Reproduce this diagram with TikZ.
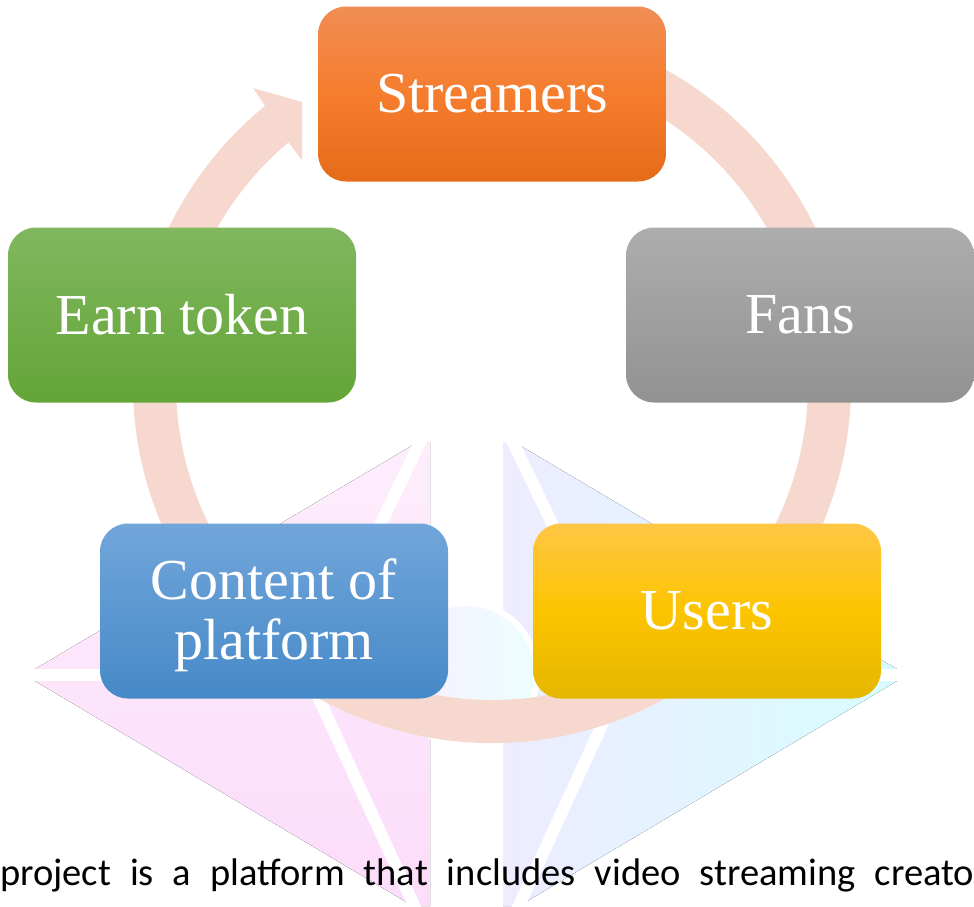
\documentclass[tikz,border=0pt]{standalone}
\usepackage{fontspec}
\setmainfont{Liberation Serif}
\newfontfamily\captionfont{Carlito}
\usetikzlibrary{positioning,calc}
\definecolor{ringpeach}{RGB}{246,216,206}
\definecolor{streamtop}{RGB}{241,141,84}
\definecolor{streammid}{RGB}{245,125,45}
\definecolor{streambot}{RGB}{229,107,26}
\definecolor{earntop}{RGB}{128,183,95}
\definecolor{earnbot}{RGB}{99,165,55}
\definecolor{fanstop}{RGB}{173,173,173}
\definecolor{fansbot}{RGB}{146,146,146}
\definecolor{contenttop}{RGB}{114,166,218}
\definecolor{contentbot}{RGB}{70,137,200}
\definecolor{userstop}{RGB}{255,198,70}
\definecolor{usersmid}{RGB}{253,196,0}
\definecolor{usersbot}{RGB}{228,183,0}
\definecolor{wmpinktop}{RGB}{253,238,252}
\definecolor{wmpink}{RGB}{252,220,250}
\definecolor{wmlav}{RGB}{238,236,255}
\definecolor{wmcyan}{RGB}{214,253,255}
\definecolor{wmlilac}{RGB}{248,238,255}
\definecolor{wmice}{RGB}{236,255,255}

\begin{document}
\begin{tikzpicture}[x=1pt, y=-1pt,
    stage/.style={rectangle, rounded corners=28pt, minimum width=348pt, minimum height=175pt, inner sep=0pt, text=white, align=center, font=\fontsize{58}{60}\selectfont},
    ring/.style={fill=ringpeach},
    glowstripe/.style={draw=white, line width=12pt}]

    \useasboundingbox (0,0) rectangle (974,906);
    \fill[white] (0,0) rectangle (974,906);

    % Watermark behind the cycle
    \fill[top color=wmpinktop, bottom color=wmpink] (25,675) -- (418,442) -- (430,442) -- (430,906) -- (413,906) -- cycle;
    \fill[left color=wmlav, right color=wmcyan] (907,675) -- (514,442) -- (503,442) -- (503,906) -- (519,906) -- cycle;
    \draw[glowstripe] (424,434) -- (308,675) -- (418,914);
    \draw[glowstripe] (509,434) -- (625,675) -- (515,914);
    \draw[glowstripe] (18,675) -- (300,675);
    \draw[glowstripe] (914,675) -- (632,675);
    \filldraw[left color=wmlilac, right color=wmice, draw=white, line width=6pt] (466,674) circle[radius=71];

    % Cycle ring
    \coordinate (hub) at (492,384);
    \fill[ring] ($(hub)+(-75:359)$) arc[start angle=-75, end angle=230.8, radius=359]
        -- (253,88) -- (302,102) -- (302,160) -- ($(hub)+(229.9:316)$)
        arc[start angle=229.9, end angle=-75, radius=316] -- cycle;

    % Stages
    \node[stage, top color=streamtop, bottom color=streambot, middle color=streammid] (streamers) at (492,94) {Streamers};
    \node[stage, top color=fanstop, bottom color=fansbot] (fans) at (800,315) {Fans};
    \node[stage, top color=userstop, bottom color=usersbot, middle color=usersmid] (users) at (707,611) {Users};
    \node[stage, top color=contenttop, bottom color=contentbot] (content) at (274,611) {\rule{0pt}{50pt}Content of\\platform};
    \node[stage, top color=earntop, bottom color=earnbot] (earn) at (182,315) {Earn token};

    \node[anchor=base west, inner sep=0pt, font=\captionfont\fontsize{38.5}{46}\selectfont] (caption) at (0,885) {\makebox[974pt][s]{project is a platform that includes video streaming creato}};
\end{tikzpicture}
\end{document}
